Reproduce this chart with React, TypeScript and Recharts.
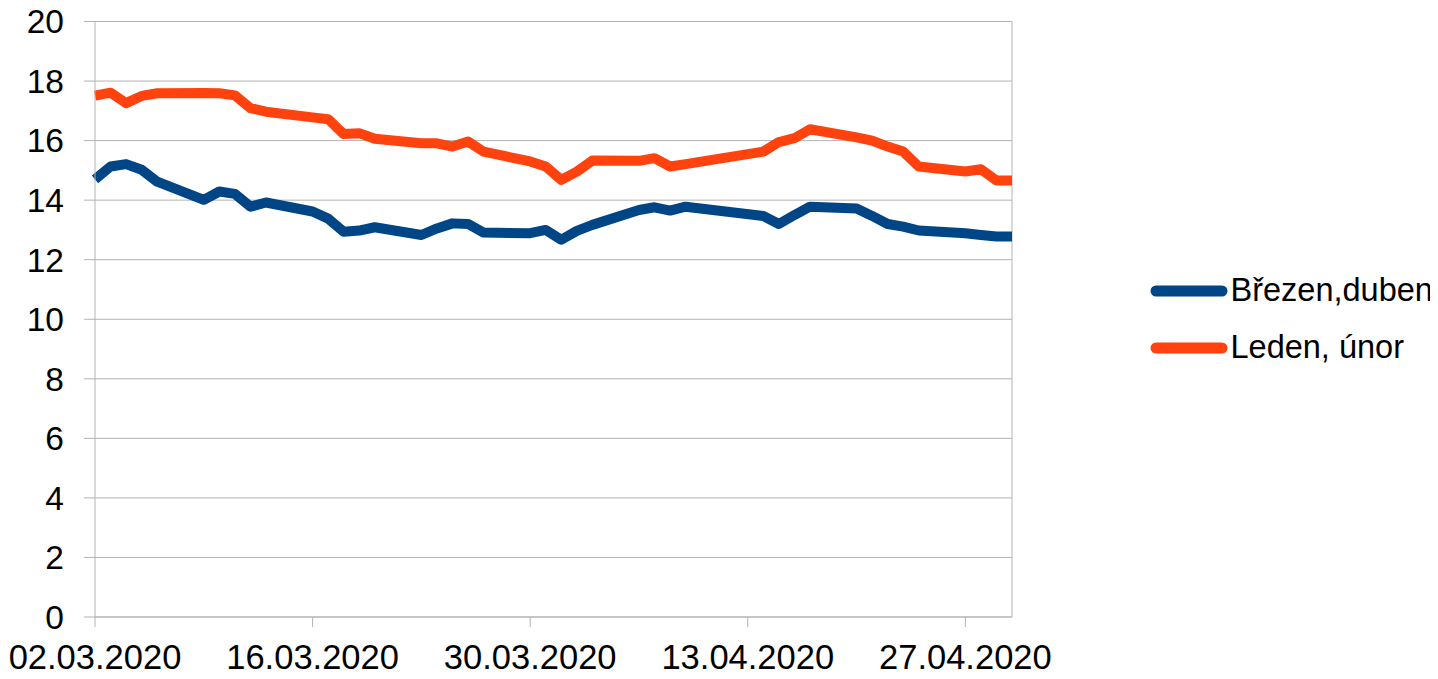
import { CartesianGrid, Legend, Line, LineChart, ReferenceLine, XAxis, YAxis } from "recharts"

// trading days only (weekends and Easter holidays are missing in the source)
const dates = [
    '02.03.2020', '03.03.2020', '04.03.2020', '05.03.2020', '06.03.2020',
    '09.03.2020', '10.03.2020', '11.03.2020', '12.03.2020', '13.03.2020',
    '16.03.2020', '17.03.2020', '18.03.2020', '19.03.2020', '20.03.2020',
    '23.03.2020', '24.03.2020', '25.03.2020', '26.03.2020', '27.03.2020',
    '30.03.2020', '31.03.2020', '01.04.2020', '02.04.2020', '03.04.2020',
    '06.04.2020', '07.04.2020', '08.04.2020', '09.04.2020',
    '14.04.2020', '15.04.2020', '16.04.2020', '17.04.2020',
    '20.04.2020', '21.04.2020', '22.04.2020', '23.04.2020', '24.04.2020',
    '27.04.2020', '28.04.2020', '29.04.2020', '30.04.2020',
]

const brezenDuben = [
    14.70, 15.13, 15.21, 15.02, 14.62,
    14.01, 14.29, 14.21, 13.78, 13.92,
    13.62, 13.38, 12.94, 12.98, 13.09,
    12.83, 13.05, 13.22, 13.20, 12.91,
    12.89, 13.00, 12.67, 12.97, 13.17,
    13.67, 13.76, 13.65, 13.78,
    13.47, 13.20, 13.50, 13.78,
    13.72, 13.47, 13.20, 13.11, 12.98,
    12.89, 12.83, 12.78, 12.78,
]

const ledenUnor = [
    17.51, 17.61, 17.26, 17.50, 17.59,
    17.60, 17.59, 17.52, 17.09, 16.97,
    16.78, 16.72, 16.22, 16.25, 16.06,
    15.91, 15.91, 15.80, 15.97, 15.63,
    15.30, 15.13, 14.68, 14.96, 15.33,
    15.32, 15.41, 15.13, 15.21,
    15.63, 15.95, 16.08, 16.38,
    16.11, 16.00, 15.80, 15.63, 15.13,
    14.96, 15.04, 14.66, 14.66,
]

const tickLabels = ['02.03.2020', '16.03.2020', '30.03.2020', '13.04.2020', '27.04.2020']
const yTicks = [0, 2, 4, 6, 8, 10, 12, 14, 16, 18, 20]

const toDay = (s: string) => {
    const [d, m, y] = s.split('.').map(Number)
    return Math.round((Date.UTC(y, m - 1, d) - Date.UTC(2020, 2, 2)) / 86400000)
}

const data = dates.map((d, i) => ({
    day: toDay(d),
    'Březen,duben': brezenDuben[i],
    'Leden, únor': ledenUnor[i],
}))

const xTicks = tickLabels.map(toDay)
const lastDay = toDay(dates[dates.length - 1])

const GRID = '#b3b3b3'
const FONT = '"Liberation Sans", Arial, sans-serif'

const renderLegend = (props: any) => {
    const { payload } = props
    return (
        <div style={{ fontFamily: FONT, fontSize: 32.5, color: '#000', whiteSpace: 'nowrap' }}>
            {payload.map((entry: any) => (
                <div key={entry.value} style={{ display: 'flex', alignItems: 'center', height: 57 }}>
                    <svg width={78} height={12} style={{ flex: 'none' }}>
                        <line x1={6} y1={6} x2={72} y2={6} stroke={entry.color} strokeWidth={11} strokeLinecap="round" />
                    </svg>
                    <span style={{ marginLeft: 2.5 }}>{entry.value}</span>
                </div>
            ))}
        </div>
    )
}

const App = () => {
    return (
        <div style={{ margin: -8, width: 1438, height: 679 }}>
            <LineChart
                width={1438}
                height={679}
                data={data}
                margin={{ top: 21.5, right: 426, left: 0, bottom: 0 }}
                style={{ fontFamily: FONT }}
            >
                <CartesianGrid vertical={false} stroke={GRID} strokeWidth={1} />
                <XAxis
                    dataKey="day"
                    type="number"
                    domain={[0, lastDay]}
                    ticks={xTicks}
                    tickFormatter={(v: number) => tickLabels[xTicks.indexOf(v)]}
                    stroke={GRID}
                    tickSize={10}
                    tickMargin={18}
                    height={62}
                    tick={{ fill: '#000', fontSize: 34.5 }}
                    interval={0}
                />
                <YAxis
                    domain={[0, 20]}
                    ticks={yTicks}
                    stroke={GRID}
                    tickSize={11}
                    tickMargin={20}
                    width={95}
                    tick={{ fill: '#000', fontSize: 33.5 }}
                    interval={0}
                />
                <ReferenceLine x={lastDay} stroke={GRID} strokeWidth={1} />
                <Legend
                    layout="vertical"
                    align="center"
                    verticalAlign="middle"
                    content={renderLegend}
                    wrapperStyle={{ left: 1150, top: 262, width: 288 }}
                />
                <Line
                    type="linear"
                    dataKey="Březen,duben"
                    stroke="#004586"
                    strokeWidth={10}
                    strokeLinejoin="round"
                    dot={false}
                    activeDot={false}
                    isAnimationActive={false}
                />
                <Line
                    type="linear"
                    dataKey="Leden, únor"
                    stroke="#ff420e"
                    strokeWidth={10}
                    strokeLinejoin="round"
                    dot={false}
                    activeDot={false}
                    isAnimationActive={false}
                />
            </LineChart>
        </div>
    )
}

export default App
